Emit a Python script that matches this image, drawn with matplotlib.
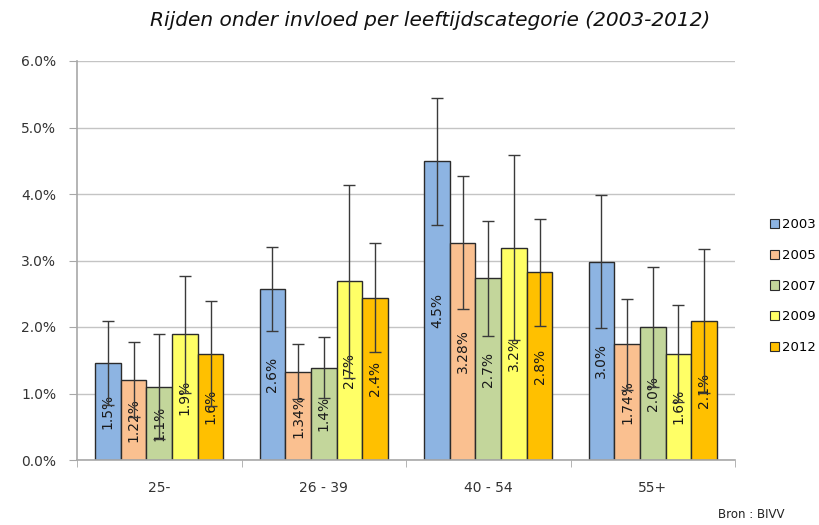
import matplotlib
matplotlib.use("Agg")
import matplotlib.pyplot as plt
import numpy as np
from matplotlib.patches import Patch

categories = ["25-", "26 - 39", "40 - 54", "55+"]
years = ["2003", "2005", "2007", "2009", "2012"]
values = {
    "2003": [1.46, 2.57, 4.49, 2.98],
    "2005": [1.21, 1.33, 3.27, 1.74],
    "2007": [1.10, 1.39, 2.73, 2.00],
    "2009": [1.89, 2.69, 3.19, 1.60],
    "2012": [1.60, 2.44, 2.82, 2.09],
}
errors = {
    "2003": [0.63, 0.63, 0.96, 1.00],
    "2005": [0.56, 0.42, 1.00, 0.68],
    "2007": [0.79, 0.46, 0.86, 0.90],
    "2009": [0.88, 1.45, 1.39, 0.73],
    "2012": [0.79, 0.82, 0.80, 1.08],
}
labels = {
    "2003": ["1.5%", "2.6%", "4.5%", "3.0%"],
    "2005": ["1.22%", "1.34%", "3.28%", "1.74%"],
    "2007": ["1.1%", "1.4%", "2.7%", "2.0%"],
    "2009": ["1.9%", "2.7%", "3.2%", "1.6%"],
    "2012": ["1.6%", "2.4%", "2.8%", "2.1%"],
}
colors = ["#8DB4E2", "#FAC090", "#C3D69B", "#FFFF66", "#FFC000"]
yticks = [0, 1, 2, 3, 4, 5, 6]
ytick_labels = ["0.0%", "1.0%", "2.0%", "3.0%", "4.0%", "5.0%", "6.0%"]

plt.rcParams['font.family'] = ['DejaVu Sans']
fig = plt.figure(figsize=(8.19, 5.25), dpi=100)
ax = fig.add_axes([77/819, 1-460/525, (735-77)/819, (460-61)/525])

x = np.arange(len(categories))
bw = 0.156
n = len(years)
for i, (yr, c) in enumerate(zip(years, colors)):
    pos = x + (i - (n-1)/2) * bw
    vals = values[yr]
    ax.bar(pos, vals, width=bw, color=c, edgecolor="#2b2b2b", linewidth=1.0, zorder=2)
    for p, v, lab in zip(pos, vals, labels[yr]):
        ax.text(p, v/2, lab, rotation=90, ha="center", va="center",
                fontsize=10, color="#1a1a1a", zorder=3)
    ax.errorbar(pos, vals, yerr=errors[yr], fmt="none", ecolor="#3a3a3a",
                elinewidth=1.0, capsize=4, capthick=1.0, zorder=4)

ax.set_xlim(-0.5, len(categories) - 0.5)
ax.set_ylim(0, 6)
ax.set_yticks(yticks)
ax.set_yticklabels(ytick_labels, fontsize=10, color="#333333")
ax.set_xticks(x)
ax.set_xticklabels(categories, fontsize=10, color="#333333")
ax.tick_params(axis="x", length=0, pad=15)
ax.set_xticks(np.arange(len(categories) + 1) - 0.5, minor=True)
ax.tick_params(axis="x", which="minor", length=5, color="#A8A8A8")
ax.tick_params(axis="y", length=6, color="#A8A8A8", pad=9)
ax.grid(axis="y", color="#C4C4C4", linewidth=1.0, zorder=0)
ax.set_axisbelow(True)
for s in ["top", "right"]:
    ax.spines[s].set_visible(False)
ax.spines["left"].set_color("#A8A8A8")
ax.spines["bottom"].set_color("#A8A8A8")
ax.spines["left"].set_linewidth(1.2)
ax.spines["bottom"].set_linewidth(1.2)

handles = [Patch(facecolor=c, edgecolor="#2b2b2b", linewidth=0.8) for c in colors]
fig.legend(handles, years, loc="upper left", bbox_to_anchor=(770/819, 1-218/525),
           frameon=False, fontsize=9.5, handlelength=0.7, handleheight=0.7,
           handletextpad=0.2, labelspacing=1.35, borderaxespad=0, borderpad=0)

fig.text(430/819, 1-21/525, "Rijden onder invloed per leeftijdscategorie (2003-2012)",
         ha="center", va="center", fontsize=14.5, style="italic", color="#111111")
fig.text(785/819, 1-515/525, "Bron : BIVV", ha="right", va="center", fontsize=8.5,
         color="#222222")

fig.savefig("out.png", dpi=100)
